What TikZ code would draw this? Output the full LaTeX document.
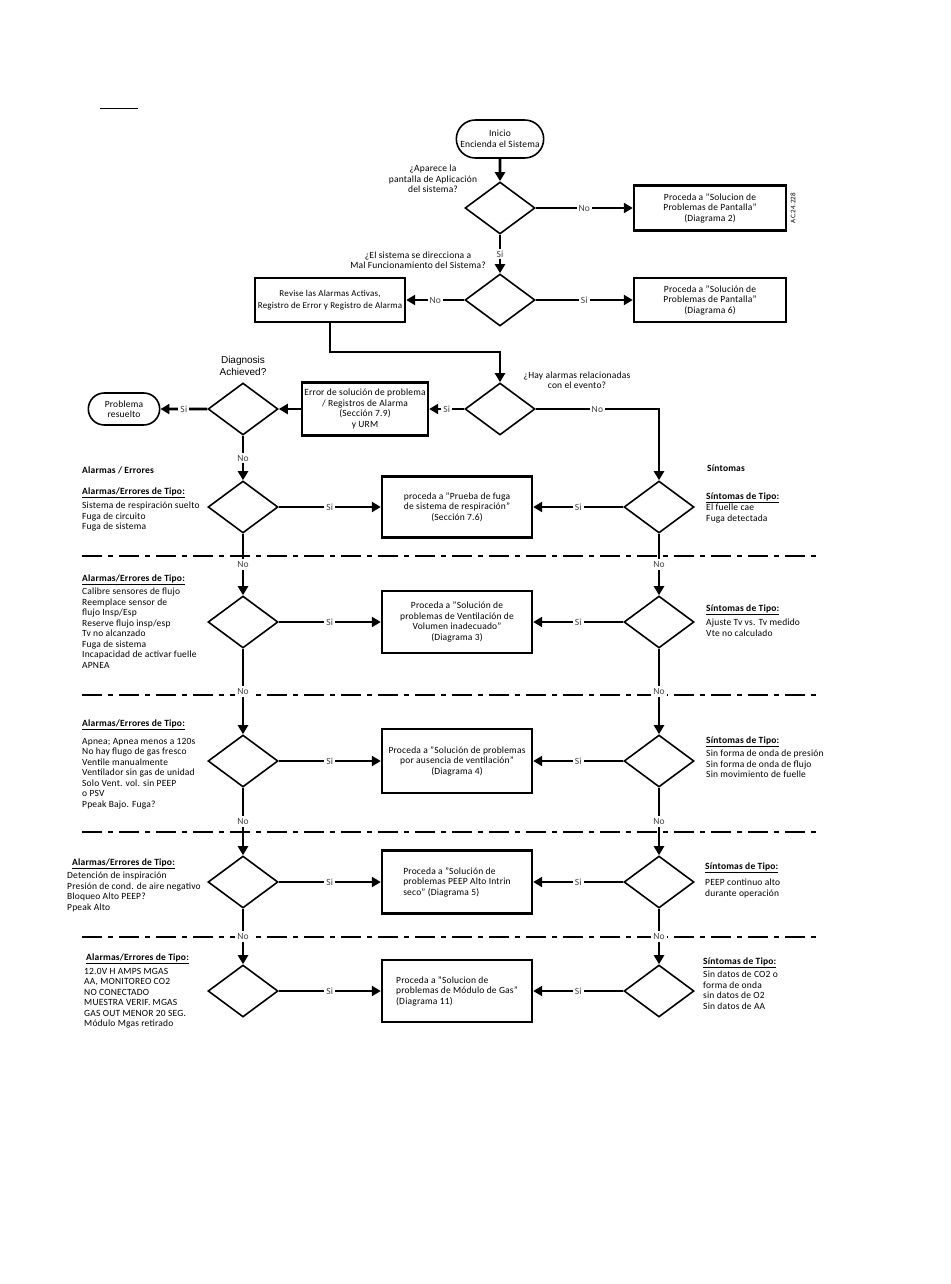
\documentclass[tikz,border=0pt]{standalone}
\usepackage{fontspec}
\setmainfont{Carlito}[LetterSpace=2]
\newfontfamily\arialfont{Liberation Sans}
\usetikzlibrary{shapes.geometric,shapes.misc,arrows.meta}

\begin{document}
\begin{tikzpicture}[x=1pt,y=-1pt,
    font=\fontsize{9.5}{10.5}\selectfont,
    decision/.style={diamond,draw,line width=1.6pt,minimum width=70pt,minimum height=52pt,inner sep=0pt},
    stepbox/.style={rectangle,draw,line width=2.4pt,align=center,inner sep=1.5pt},
    term/.style={rounded rectangle,draw,line width=1.6pt,align=center},
    arr/.style={line width=2.6pt,-{Triangle[length=9pt,width=10pt]}},
    lbl/.style={fill=white,inner sep=2pt,text=black!75},
    lst/.style={anchor=north west,align=left,inner sep=0pt,execute at begin node=\strut},
    hdr/.style={anchor=base west,inner sep=0pt,font=\fontsize{9.5}{10.5}\selectfont\bfseries},
    sep/.style={line width=2.4pt,dash pattern=on 20pt off 6pt on 5pt off 6pt}]
  \useasboundingbox (0,0) rectangle (950,1284);
  \draw[line width=0.8pt] (100,108) -- (138,108);

  \node[term,minimum width=94pt,minimum height=38pt] (start) at (500,139) {Inicio\\Encienda el Sistema};
  \node[decision] (d1) at (500,208) {};
  \node[decision] (d2) at (500,300) {};
  \node[decision] (d3) at (500,409) {};
  \node[align=center] (q1) at (433,179) {¿Aparece la\\pantalla de Aplicación\\del sistema?};
  \node[align=center] (q2) at (418,260) {¿El sistema se direcciona a\\Mal Funcionamiento del Sistema?};
  \node[align=center] (q3) at (577,380) {¿Hay alarmas relacionadas\\con el evento?};
  \node[stepbox,minimum width=152pt,minimum height=45pt] (pant1) at (710,208) {Proceda a "Solucion de\\Problemas de Pantalla"\\(Diagrama 2)};
  \node[rotate=90,font=\fontsize{7}{8}\selectfont] (ac) at (793,208) {AC.24.228};
  \node[stepbox,minimum width=152pt,minimum height=44pt] (pant2) at (710,300) {Proceda a "Solución de\\Problemas de Pantalla"\\(Diagrama 6)};
  \node[stepbox,minimum width=150pt,minimum height=44pt,font=\fontsize{9}{11.5}\selectfont] (rev) at (330,300) {Revise las Alarmas Activas,\\Registro de Error y Registro de Alarma};
  \node[stepbox,minimum width=126pt,minimum height=53pt] (err) at (365,409) {Error de solución de problema\\/ Registros de Alarma\\(Sección 7.9)\\y URM};
  \node[decision] (diag) at (243,409) {};
  \node[align=center,font=\arialfont\fontsize{10}{12}\selectfont] (qdiag) at (243,366) {Diagnosis\\Achieved?};
  \node[term,minimum width=78pt,minimum height=32pt] (done) at (124,409) {Problema\\resuelto};
  \coordinate (j1) at (500,352);

  \draw[arr] (start) -- (d1);
  \draw[arr] (d1) -- (pant1) node[lbl,midway]{No};
  \draw[arr] (d1) -- (d2) node[lbl,midway]{Si};
  \draw[arr] (d2) -- (pant2) node[lbl,midway]{Si};
  \draw[arr] (d2) -- (rev) node[lbl,midway]{No};
  \draw[arr] (rev.south) |- (j1) -- (d3.north);
  \draw[arr] (d3) -- (err) node[lbl,midway]{Si};
  \draw[arr] (err) -- (diag);
  \draw[arr] (diag) -- (done) node[lbl,midway]{Si};

  \node[hdr] (alarmas) at (82,473) {Alarmas / Errores};
  \node[hdr] (sintomas) at (707,471) {Síntomas};

  \draw[sep] (82,556) -- (817,556);
  \draw[sep] (82,695) -- (817,695);
  \draw[sep] (82,832) -- (817,832);
  \draw[sep] (82,937) -- (817,937);

  \node[decision] (l1) at (243,507) {};
  \node[decision] (r1) at (659,507) {};
  \node[stepbox,minimum width=150pt,minimum height=61pt] (b1) at (457,507) {proceda a "Prueba de fuga\\de sistema de respiración"\\(Sección 7.6)};
  \node[decision] (l2) at (243,622) {};
  \node[decision] (r2) at (659,622) {};
  \node[stepbox,minimum width=150pt,minimum height=62pt] (b2) at (457,622) {Proceda a "Solución de\\problemas de Ventilación de\\Volumen inadecuado"\\(Diagrama 3)};
  \node[decision] (l3) at (243,761) {};
  \node[decision] (r3) at (659,761) {};
  \node[stepbox,minimum width=150pt,minimum height=64pt] (b3) at (457,761) {Proceda a "Solución de problemas\\por ausencia de ventilación"\\(Diagrama 4)};
  \node[decision] (l4) at (243,882) {};
  \node[decision] (r4) at (659,882) {};
  \node[stepbox,align=left,minimum width=150pt,minimum height=63pt] (b4) at (457,882) {Proceda a "Solución de\\problemas PEEP Alto Intrin\\seco" (Diagrama 5)};
  \node[decision] (l5) at (243,991) {};
  \node[decision] (r5) at (659,991) {};
  \node[stepbox,align=left,minimum width=150pt,minimum height=62pt] (b5) at (457,991) {Proceda a "Solucion de\\problemas de Módulo de Gas"\\(Diagrama 11)};

  \draw[arr] (d3) -| (r1) node[lbl,pos=0.25]{No};
  \draw[arr] (diag) -- (l1) node[lbl,midway]{No};
  \draw[arr] (l1) -- (b1) node[lbl,midway]{Si};
  \draw[arr] (r1) -- (b1) node[lbl,midway]{Si};
  \draw[arr] (l1) -- (l2) node[lbl,midway]{No};
  \draw[arr] (r1) -- (r2) node[lbl,midway]{No};
  \draw[arr] (l2) -- (b2) node[lbl,midway]{Si};
  \draw[arr] (r2) -- (b2) node[lbl,midway]{Si};
  \draw[arr] (l2) -- (l3) node[lbl,midway]{No};
  \draw[arr] (r2) -- (r3) node[lbl,midway]{No};
  \draw[arr] (l3) -- (b3) node[lbl,midway]{Si};
  \draw[arr] (r3) -- (b3) node[lbl,midway]{Si};
  \draw[arr] (l3) -- (l4) node[lbl,midway]{No};
  \draw[arr] (r3) -- (r4) node[lbl,midway]{No};
  \draw[arr] (l4) -- (b4) node[lbl,midway]{Si};
  \draw[arr] (r4) -- (b4) node[lbl,midway]{Si};
  \draw[arr] (l4) -- (l5) node[lbl,midway]{No};
  \draw[arr] (r4) -- (r5) node[lbl,midway]{No};
  \draw[arr] (l5) -- (b5) node[lbl,midway]{Si};
  \draw[arr] (r5) -- (b5) node[lbl,midway]{Si};

  \node[hdr] (hl1) at (82,494) {\underline{Alarmas/Errores de Tipo:}};
  \node[lst] (al1) at (82,502) {Sistema de respiración suelto\\Fuga de circuito\\Fuga de sistema};
  \node[hdr] (hl2) at (82,581) {\underline{Alarmas/Errores de Tipo:}};
  \node[lst] (al2) at (82,588) {Calibre sensores de flujo\\Reemplace sensor de\\flujo Insp/Esp\\Reserve flujo insp/esp\\Tv no alcanzado\\Fuga de sistema\\Incapacidad de activar fuelle\\APNEA};
  \node[hdr] (hl3) at (82,726) {\underline{Alarmas/Errores de Tipo:}};
  \node[lst] (al3) at (82,738) {Apnea; Apnea menos a 120s\\No hay flugo de gas fresco\\Ventile manualmente\\Ventilador sin gas de unidad\\Solo Vent. vol. sin PEEP\\o PSV\\Ppeak Bajo. Fuga?};
  \node[hdr] (hl4) at (72,865) {\underline{Alarmas/Errores de Tipo:}};
  \node[lst] (al4) at (67,872) {Detención de inspiración\\Presión de cond. de aire negativo\\Bloqueo Alto PEEP?\\Ppeak Alto};
  \node[hdr] (hl5) at (86,960) {\underline{Alarmas/Errores de Tipo:}};
  \node[lst] (al5) at (84,968) {12.0V H AMPS MGAS\\AA, MONITOREO CO2\\NO CONECTADO\\MUESTRA VERIF. MGAS\\GAS OUT MENOR 20 SEG.\\Módulo Mgas retirado};

  \node[hdr] (hr1) at (706,499) {\underline{Síntomas de Tipo:}};
  \node[lst] (sr1) at (706,504) {El fuelle cae\\Fuga detectada};
  \node[hdr] (hr2) at (706,611) {\underline{Síntomas de Tipo:}};
  \node[lst] (sr2) at (706,619) {Ajuste Tv vs. Tv medido\\Vte no calculado};
  \node[hdr] (hr3) at (706,743) {\underline{Síntomas de Tipo:}};
  \node[lst] (sr3) at (706,750) {Sin forma de onda de presión\\Sin forma de onda de flujo\\Sin movimiento de fuelle};
  \node[hdr] (hr4) at (705,869) {\underline{Síntomas de Tipo:}};
  \node[lst] (sr4) at (705,879) {PEEP continuo alto\\durante operación};
  \node[hdr] (hr5) at (703,964) {\underline{Síntomas de Tipo:}};
  \node[lst] (sr5) at (703,971) {Sin datos de CO2 o\\forma de onda\\sin datos de O2\\Sin datos de AA};
\end{tikzpicture}
\end{document}
